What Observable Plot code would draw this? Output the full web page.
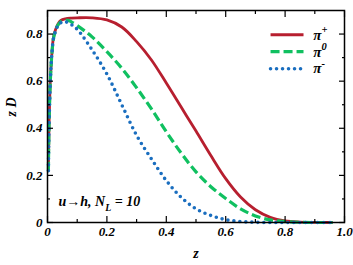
<!DOCTYPE html>
<html><head><meta charset="utf-8">
<script src="https://cdn.jsdelivr.net/npm/d3@7"></script>
<script src="https://cdn.jsdelivr.net/npm/@observablehq/plot@0.6"></script>
<style>
body{margin:0;background:#fff}
#chart{width:353px;height:265px}
</style>
</head><body><div id="chart"></div>
<script>
// ---- data ----
const zPiPlus = [0.003,0.005,0.008,0.011,0.015,0.02,0.027,0.035,0.045,0.06,0.08,0.1,0.15,0.2,0.25,0.3,0.35,0.4,0.45,0.5,0.55,0.6,0.65,0.7,0.75,0.8,0.85,0.9,0.96];
const dPiPlus = [0.22,0.40,0.55,0.64,0.72,0.785,0.818,0.842,0.858,0.865,0.868,0.869,0.869,0.86,0.83,0.768,0.69,0.592,0.49,0.388,0.284,0.186,0.108,0.054,0.022,0.007,0.002,0.0005,0];

const zPiZero = [0.003,0.005,0.008,0.011,0.015,0.02,0.027,0.035,0.045,0.06,0.07,0.08,0.1,0.15,0.2,0.25,0.3,0.35,0.4,0.45,0.5,0.55,0.6,0.65,0.7,0.75,0.8,0.85,0.9,0.96];
const dPiZero = [0.22,0.40,0.55,0.64,0.72,0.78,0.815,0.838,0.852,0.858,0.858,0.852,0.836,0.788,0.725,0.655,0.572,0.482,0.385,0.295,0.215,0.152,0.102,0.058,0.028,0.011,0.004,0.001,0,0];

const zPiMinus = [0.003,0.005,0.008,0.011,0.015,0.02,0.027,0.035,0.045,0.06,0.08,0.1,0.15,0.2,0.25,0.3,0.35,0.4,0.45,0.5,0.55,0.6,0.65,0.7,0.75,0.8,0.85,0.9,0.96];
const dPiMinus = [0.22,0.40,0.55,0.64,0.72,0.78,0.812,0.835,0.848,0.852,0.84,0.82,0.733,0.63,0.5,0.37,0.27,0.178,0.107,0.058,0.03,0.012,0.004,0.001,0,0,0,0,0];

const seriesNames = ["π^+", "π^0", "π^-"];
const seriesColors = ["#b71f2f", "#10c060", "#1a6ebf"];

const xMajorTicks = [0, 0.2, 0.4, 0.6, 0.8, 1.0];
const xMinorTicks = [0.1, 0.3, 0.5, 0.7, 0.9];
const yMajorTicks = [0, 0.2, 0.4, 0.6, 0.8];
const yMinorTicks = [0.1, 0.3, 0.5, 0.7];

const annotation = "u→h, N_L = 10";
const xLabel = "z";
const yLabel = "z D";

// ---- layout of the in-plot legend / annotation (data coordinates) ----
const legendX1 = 0.751, legendX2 = 0.862, legendTextX = 0.895;
const legendY = [0.797, 0.725, 0.653];
const annotX = 0.037, annotY = 0.068;

const rows = (zs, ds, name) => zs.map((z, i) => ({z, d: ds[i], name}));
const plusRows = rows(zPiPlus, dPiPlus, seriesNames[0]);
const zeroRows = rows(zPiZero, dPiZero, seriesNames[1]);
const minusRows = rows(zPiMinus, dPiMinus, seriesNames[2]);

const legendRows = seriesNames.map((name, i) => ({name, y: legendY[i], color: seriesColors[i]}));

const fmt = d => d === 0 ? "0" : d.toFixed(1);
const font = {fontFamily: "Liberation Serif", fontWeight: "bold", fontStyle: "italic"};

const lineStyles = [
  {strokeWidth: 2.8, strokeDasharray: null, strokeLinecap: "butt"},
  {strokeWidth: 3.2, strokeDasharray: "9,4", strokeLinecap: "butt"},
  {strokeWidth: 3.6, strokeDasharray: "0,6", strokeLinecap: "round"}
];

const plot = Plot.plot({
  width: 353,
  height: 265,
  marginLeft: 47,
  marginRight: 9,
  marginTop: 10,
  marginBottom: 43,
  style: {...font, fontSize: "13px", background: "#fff", color: "#000"},
  x: {domain: [0, 1], label: null},
  y: {domain: [0, 0.9], label: null},
  marks: [
    // curves
    Plot.line(plusRows, {x: "z", y: "d", stroke: seriesColors[0], curve: "catmull-rom", ...lineStyles[0]}),
    Plot.line(zeroRows, {x: "z", y: "d", stroke: seriesColors[1], curve: "catmull-rom", ...lineStyles[1]}),
    Plot.line(minusRows, {x: "z", y: "d", stroke: seriesColors[2], curve: "catmull-rom", ...lineStyles[2]}),
    // axes: labels
    Plot.axisX({ticks: xMajorTicks, tickSize: 0, tickPadding: 4, tickFormat: fmt, label: null, fontSize: 13}),
    Plot.axisY({ticks: yMajorTicks, tickSize: 0, tickPadding: 5, tickFormat: fmt, label: null, fontSize: 13}),
    // inward ticks (major + minor), all four sides
    Plot.axisX({anchor: "bottom", ticks: xMajorTicks, tickSize: -6, text: null, label: null, strokeWidth: 1.2}),
    Plot.axisX({anchor: "bottom", ticks: xMinorTicks, tickSize: -3, text: null, label: null, strokeWidth: 1.2}),
    Plot.axisX({anchor: "top", ticks: xMajorTicks, tickSize: -6, text: null, label: null, strokeWidth: 1.2}),
    Plot.axisX({anchor: "top", ticks: xMinorTicks, tickSize: -3, text: null, label: null, strokeWidth: 1.2}),
    Plot.axisY({anchor: "left", ticks: yMajorTicks, tickSize: -6, text: null, label: null, strokeWidth: 1.2}),
    Plot.axisY({anchor: "left", ticks: yMinorTicks, tickSize: -3, text: null, label: null, strokeWidth: 1.2}),
    Plot.axisY({anchor: "right", ticks: yMajorTicks, tickSize: -6, text: null, label: null, strokeWidth: 1.2}),
    Plot.axisY({anchor: "right", ticks: yMinorTicks, tickSize: -3, text: null, label: null, strokeWidth: 1.2}),
    Plot.frame({stroke: "#000", strokeWidth: 1.5}),
    // axis titles
    Plot.text([xLabel], {text: d => d, frameAnchor: "bottom", dy: 31, lineAnchor: "middle", fontSize: 14}),
    Plot.text([yLabel], {text: d => d, frameAnchor: "left", dx: -36, rotate: -90, lineAnchor: "middle", fontSize: 14}),
    // legend
    ...legendRows.map((r, i) => Plot.link([r], {x1: () => legendX1, x2: () => legendX2, y1: "y", y2: "y", stroke: r.color, ...lineStyles[i]})),
    Plot.text(legendRows, {x: () => legendTextX, y: "y", text: "name", textAnchor: "start", lineAnchor: "middle", fontSize: 15, className: "scripted"}),
    // annotation
    Plot.text([annotation], {x: () => annotX, y: () => annotY, text: d => d, textAnchor: "start", lineAnchor: "bottom", fontSize: 14, className: "scripted"})
  ]
});

// convert "^x" / "_x" markers to real super/subscripts
plot.querySelectorAll(".scripted text").forEach(t => {
  const s = t.textContent;
  while (t.firstChild) t.removeChild(t.firstChild);
  const ns = "http://www.w3.org/2000/svg";
  // split into segments: {text, kind}
  const segs = [];
  let i = 0, buf = "";
  while (i < s.length) {
    const c = s[i];
    if ((c === "^" || c === "_") && i + 1 < s.length) {
      if (buf) segs.push({text: buf, kind: "base"});
      buf = "";
      segs.push({text: s[i + 1], kind: c === "^" ? "sup" : "sub"});
      i += 2;
    } else { buf += c; i++; }
  }
  if (buf) segs.push({text: buf, kind: "base"});
  let shift = 0; // current baseline offset in em of parent
  segs.forEach(seg => {
    const ts = document.createElementNS(ns, "tspan");
    ts.textContent = seg.text;
    const target = seg.kind === "sup" ? -0.45 : seg.kind === "sub" ? 0.3 : 0;
    const dyPx = (target - shift);
    if (dyPx !== 0) ts.setAttribute("dy", dyPx + "em");
    if (seg.kind !== "base") ts.setAttribute("font-size", "70%");
    // dy in em is relative to the tspan's own font size: correct for scaled tspans
    if (seg.kind !== "base" && dyPx !== 0) ts.setAttribute("dy", (dyPx / 0.7) + "em");
    shift = target;
    t.appendChild(ts);
  });
});

document.getElementById("chart").appendChild(plot);
</script>
</body></html>
